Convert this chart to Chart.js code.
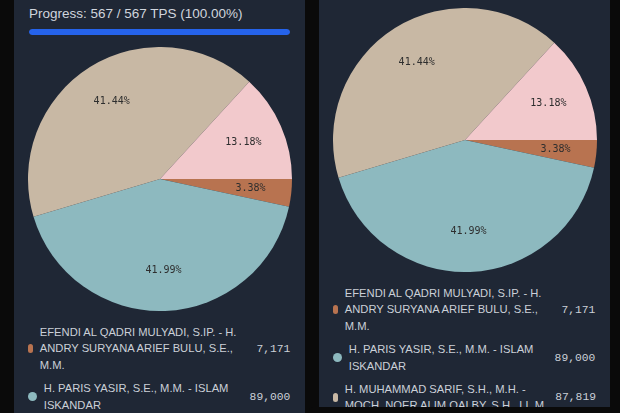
<!DOCTYPE html>
<html>
<head>
<meta charset="utf-8">
<script src="https://cdn.jsdelivr.net/npm/chart.js@4"></script>
<style>
  html, body { margin: 0; padding: 0; }
  body { width: 620px; height: 413px; overflow: hidden; background: #0a0a0a; position: relative; font-family: "Liberation Sans", Arial, sans-serif; }
  .panel { position: absolute; top: 0; width: 291px; background: #1f2735; overflow: hidden; }
  .inner { position: absolute; left: 0; top: 0; width: 100%; height: 520px; }
  .progress-text { position: absolute; left: 15px; top: 5px; font-size: 13.5px; line-height: 18px; color: #d0d5dd; white-space: nowrap; }
  .progress-bar { position: absolute; left: 15px; top: 29px; width: 261px; height: 6px; border-radius: 3px; background: #2b3445; overflow: hidden; }
  .progress-fill { height: 100%; background: #2563eb; border-radius: 3px; }
  .pie-wrap { position: absolute; left: 14px; top: 47px; width: 264px; height: 264px; }
  .legend { position: absolute; left: 14.3px; top: 324px; width: 262px; display: flex; flex-direction: column; gap: 7px; }
  .legend-row { display: flex; align-items: center; }
  .legend-marker { flex: none; height: 9px; border-radius: 999px; margin-right: 7px; }
  .legend-marker.dot { width: 8.5px; }
  .legend-marker.pill { width: 4.5px; }
  .legend-name { flex: 1; white-space: nowrap; font-family: "Liberation Sans Narrow", "Arial Narrow", "Liberation Sans", sans-serif; font-size: 11.2px; line-height: 16.4px; color: #cbd0d8; }
  .legend-value { flex: none; margin-left: 8px; font-family: "Liberation Mono", monospace; font-size: 11.3px; color: #cbd0d8; }
  .bottom-cover { position: absolute; left: 309px; top: 407px; width: 311px; height: 6px; background: #0a0a0a; border-top-left-radius: 4px; }
</style>
</head>
<body>
<div class="panel" id="panelA" style="left:14px; height:413px;"><div class="inner" id="innerA"></div></div>
<div class="panel" id="panelB" style="left:319px; height:407px;"><div class="inner" id="innerB" style="top:-39px;"></div></div>
<div class="bottom-cover"></div>

<script>
// === Data ===
const tpsDone = 567;
const tpsTotal = 567;

const candidateNames = [
  ["EFENDI AL QADRI MULYADI, S.IP. - H.", "ANDRY SURYANA ARIEF BULU, S.E.,", "M.M."],
  ["H. PARIS YASIR, S.E., M.M. - ISLAM", "ISKANDAR"],
  ["H. MUHAMMAD SARIF, S.H., M.H. -", "MOCH. NOER ALIM QALBY, S.H., LL.M."],
  ["KANDIDAT 4"],
];
const candidateVotes = [7171, 89000, 87819, 27941];
const sliceColors = ["#b87350", "#8db9bf", "#c8b8a4", "#f2c9cc"];

// Draw percent text inside each slice
const pctLabels = {
  id: "pctLabels",
  afterDatasetsDraw(chart) {
    const { ctx } = chart;
    const values = chart.data.datasets[0].data;
    const total = values.reduce((a, b) => a + b, 0);
    const meta = chart.getDatasetMeta(0);
    ctx.save();
    ctx.font = '10px "DejaVu Sans Mono", monospace';
    ctx.fillStyle = "#2e2e2e";
    ctx.textAlign = "center";
    ctx.textBaseline = "middle";
    meta.data.forEach((arc, i) => {
      const p = arc.getProps(["x", "y", "startAngle", "endAngle", "outerRadius"], true);
      const mid = (p.startAngle + p.endAngle) / 2;
      const r = p.outerRadius * 0.69;
      const txt = (values[i] / total * 100).toFixed(2) + "%";
      ctx.fillText(txt, p.x + Math.cos(mid) * r, p.y + Math.sin(mid) * r);
    });
    ctx.restore();
  },
};

function fmt(n) {
  return Number(n).toLocaleString("en-US");
}

function buildPanel(inner) {
  const pct = (tpsDone / tpsTotal * 100).toFixed(2);
  let html = `
    <div class="progress-text">Progress: ${tpsDone} / ${tpsTotal} TPS (${pct}%)</div>
    <div class="progress-bar"><div class="progress-fill" style="width:${pct}%"></div></div>
    <div class="pie-wrap"><canvas width="264" height="264"></canvas></div>
    <div class="legend">`;
  candidateNames.forEach((lines, i) => {
    const shape = lines.join(" ").length > 55 ? "pill" : "dot";
    html += `
      <div class="legend-row">
        <span class="legend-marker ${shape}" style="background:${sliceColors[i]}"></span>
        <span class="legend-name">${lines.join("<br>")}</span>
        <span class="legend-value">${fmt(candidateVotes[i])}</span>
      </div>`;
  });
  html += `</div>`;
  inner.innerHTML = html;

  const canvas = inner.querySelector("canvas");
  return new Chart(canvas, {
    type: "pie",
    data: {
      labels: candidateNames.map((l) => l.join(" ")),
      datasets: [{
        data: candidateVotes,
        backgroundColor: sliceColors,
        borderWidth: 0,
        hoverOffset: 0,
      }],
    },
    options: {
      responsive: false,
      animation: false,
      rotation: 90,
      layout: { padding: 0 },
      plugins: {
        legend: { display: false },
        tooltip: { enabled: false },
      },
    },
    plugins: [pctLabels],
  });
}

buildPanel(document.getElementById("innerA"));
buildPanel(document.getElementById("innerB"));
</script>
</body>
</html>
